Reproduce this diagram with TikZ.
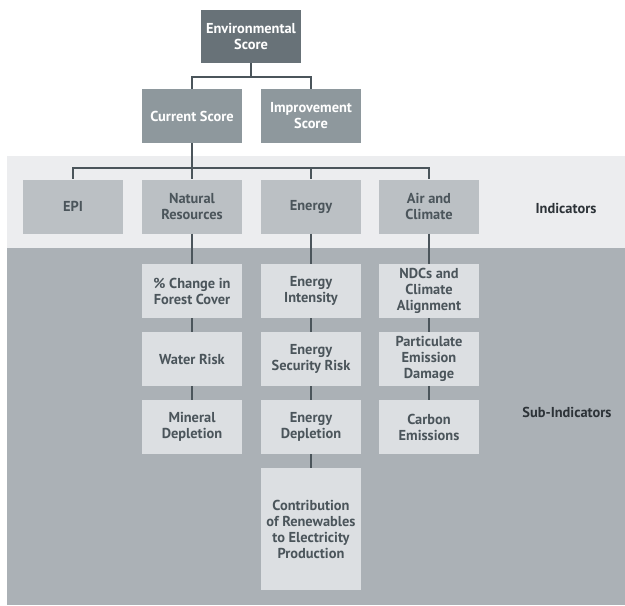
\documentclass[tikz,border=0pt]{standalone}
\usepackage{fontspec}
\setmainfont{PT Sans}
\usetikzlibrary{positioning}

\definecolor{topgray}{HTML}{687278}
\definecolor{midgray}{HTML}{8E989D}
\definecolor{indgray}{HTML}{BBC0C4}
\definecolor{subgray}{HTML}{DCDFE2}
\definecolor{bandlight}{HTML}{ECEDEF}
\definecolor{banddark}{HTML}{ABB1B6}
\definecolor{linkgray}{HTML}{4B555B}
\definecolor{labelgray}{HTML}{2D3338}

\tikzset{
  box/.style={minimum width=100pt, minimum height=54pt, inner sep=1pt, align=center,
    text=linkgray, font=\bfseries\fontsize{14.4}{16}\selectfont},
  scorebox/.style={box, text=white},
  link/.style={draw=linkgray, line width=2.4pt},
  bandlabel/.style={text=labelgray, font=\bfseries\fontsize{14.4}{16}\selectfont}
}

\begin{document}
\begin{tikzpicture}[x=1pt,y=-1pt]
\useasboundingbox (0,0) rectangle (625,606);
\fill[bandlight] (7,156) rectangle (625,248); % Indicators band
\fill[banddark] (7,248) rectangle (625,605); % Sub-Indicators band

\node[scorebox, fill=topgray, minimum height=53pt] (env) at (251,36.5) {Environmental\\Score}; % Environmental Score
\node[scorebox, fill=midgray] (cur) at (192,116) {Current Score}; % Current Score
\node[scorebox, fill=midgray] (imp) at (311,116) {Improvement\\Score}; % Improvement Score

\node[box, fill=indgray] (epi) at (73,206.5) {EPI}; % Indicator.0
\node[box, fill=indgray] (nat) at (192,206.5) {Natural\\Resources}; % Indicator.1
\node[box, fill=indgray] (nrg) at (311,206.5) {Energy}; % Indicator.2
\node[box, fill=indgray] (air) at (429,206.5) {Air and\\Climate}; % Indicator.3

\node[box, fill=subgray] (forest) at (192,291) {\% Change in\\Forest Cover}; % Natural Resources
\node[box, fill=subgray] (water) at (192,359) {Water Risk}; % Natural Resources
\node[box, fill=subgray] (mineral) at (192,427) {Mineral\\Depletion}; % Natural Resources
\node[box, fill=subgray] (intens) at (311,291) {Energy\\Intensity}; % Energy
\node[box, fill=subgray] (secur) at (311,359) {Energy\\Security Risk}; % Energy
\node[box, fill=subgray] (deplet) at (311,427) {Energy\\Depletion}; % Energy
\node[box, fill=subgray, minimum height=122pt] (renew) at (311,529) {Contribution\\of Renewables\\to Electricity\\Production}; % Energy
\node[box, fill=subgray] (ndc) at (429,291) {NDCs and\\Climate\\Alignment}; % Air and Climate
\node[box, fill=subgray] (partic) at (429,359) {Particulate\\Emission\\Damage}; % Air and Climate
\node[box, fill=subgray] (carbon) at (429,427) {Carbon\\Emissions}; % Air and Climate

\node[bandlabel] (indlabel) at (566,208) {Indicators}; % band label
\node[bandlabel] (sublabel) at (567,412) {Sub-Indicators}; % band label

\draw[link] (env.south) -- ++(0,14) -| (cur.north); % score split
\draw[link] (env.south) -- ++(0,14) -| (imp.north); % score split
\draw[link] (cur.south) -- ++(0,25) -| (epi.north); % indicator bus
\draw[link] (cur.south) -- ++(0,25) -| (nat.north); % indicator bus
\draw[link] (cur.south) -- ++(0,25) -| (nrg.north); % indicator bus
\draw[link] (cur.south) -- ++(0,25) -| (air.north); % indicator bus
\draw[link] (nat) -- (forest); \draw[link] (forest) -- (water); \draw[link] (water) -- (mineral); % column 1
\draw[link] (nrg) -- (intens); \draw[link] (intens) -- (secur); \draw[link] (secur) -- (deplet); \draw[link] (deplet) -- (renew); % column 2
\draw[link] (air) -- (ndc); \draw[link] (ndc) -- (partic); \draw[link] (partic) -- (carbon); % column 3
\end{tikzpicture}
\end{document}
